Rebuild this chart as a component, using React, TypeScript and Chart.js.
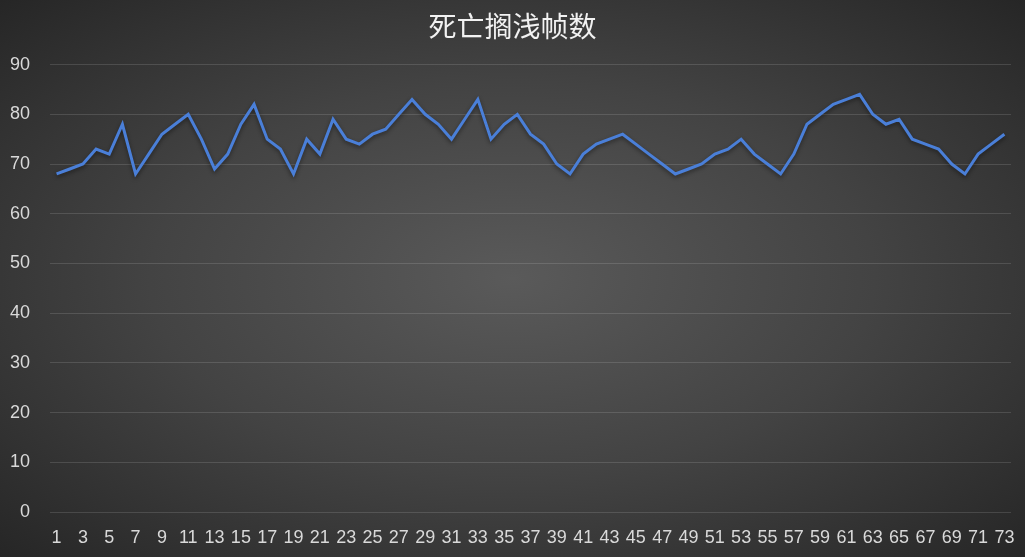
import { useEffect, useRef } from "react";
import { Chart, registerables, type Plugin } from "chart.js";

Chart.register(...registerables);

// frame index 1..73
const frames: string[] = Array.from({ length: 73 }, (_, i) => String(i + 1));

// dead-stranding frame counts
const counts: number[] = [
  68, 69, 70, 73, 72, 78, 68, 72, 76, 78,
  80, 75, 69, 72, 78, 82, 75, 73, 68, 75,
  72, 79, 75, 74, 76, 77, 80, 83, 80, 78,
  75, 79, 83, 75, 78, 80, 76, 74, 70, 68,
  72, 74, 75, 76, 74, 72, 70, 68, 69, 70,
  72, 73, 75, 72, 70, 68, 72, 78, 80, 82,
  83, 84, 80, 78, 79, 75, 74, 73, 70, 68,
  72, 74, 76,
];

const title = "死亡搁浅帧数";

// soft drop shadow under the line, like the Excel original
const lineShadow: Plugin<"line"> = {
  id: "lineShadow",
  beforeDatasetsDraw(chart) {
    const { ctx } = chart;
    ctx.save();
    ctx.shadowColor = "rgba(0,0,0,0.45)";
    ctx.shadowBlur = 4;
    ctx.shadowOffsetY = 2;
  },
  afterDatasetsDraw(chart) {
    chart.ctx.restore();
  },
};

export default function App() {
  const canvasRef = useRef<HTMLCanvasElement>(null);

  useEffect(() => {
    document.body.style.margin = "0";
    if (!canvasRef.current) return;

    const chart = new Chart(canvasRef.current, {
      type: "line",
      plugins: [lineShadow],
      data: {
        labels: frames,
        datasets: [{
          data: counts,
          borderColor: "#4a7fd8",
          borderWidth: 3,
          pointRadius: 0,
          tension: 0,
          fill: false,
        }],
      },
      options: {
        animation: false,
        responsive: false,
        maintainAspectRatio: false,
        layout: { padding: 0 },
        plugins: {
          legend: { display: false },
          tooltip: { enabled: false },
          title: {
            display: true,
            text: title,
            color: "#f2f2f2",
            font: { family: "'Noto Sans CJK SC', sans-serif", size: 28, weight: "normal" },
            padding: { top: 10, bottom: 21 },
          },
        },
        scales: {
          x: {
            offset: true,
            afterFit: (scale) => {
              scale.height = 45;
              // keep the title centred on the full width; plot stops 14px short of the edge
              scale.paddingLeft = 0;
              scale.paddingRight = 14;
            },
            grid: { display: false, drawTicks: false },
            border: { display: false },
            ticks: {
              autoSkip: false,
              maxRotation: 0,
              color: "#d9d9d9",
              padding: 15,
              font: { family: "'Liberation Sans', sans-serif", size: 18 },
              callback: (_v, i) => (i % 2 === 0 ? frames[i] : ""),
            },
          },
          y: {
            min: 0,
            max: 90,
            afterFit: (scale) => { scale.width = 50; },
            grid: { color: "rgba(255,255,255,0.13)", drawTicks: false, lineWidth: 1 },
            border: { display: false },
            ticks: {
              stepSize: 10,
              color: "#d9d9d9",
              padding: 20,
              font: { family: "'Liberation Sans', sans-serif", size: 18 },
            },
          },
        },
      },
    });

    return () => chart.destroy();
  }, []);

  return (
    <div style={{
      width: 1025,
      height: 557,
      background: "radial-gradient(ellipse at 50% 50%, #5a5a5a 0%, #434343 50%, #262626 100%)",
    }}>
      <canvas ref={canvasRef} width={1025} height={557} />
    </div>
  );
}
